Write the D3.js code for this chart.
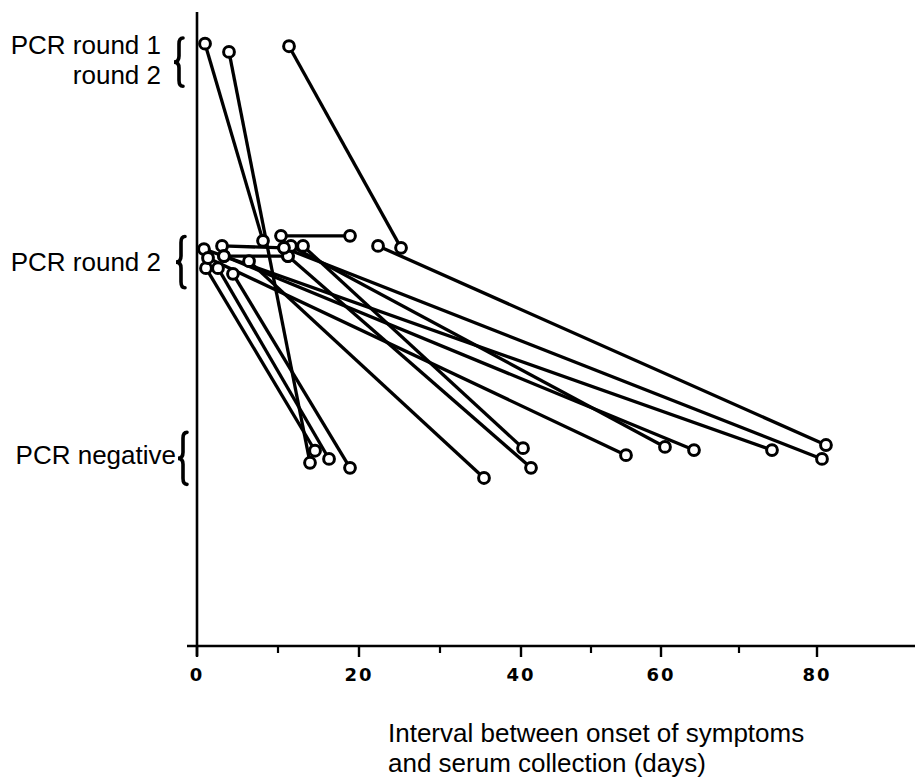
<!DOCTYPE html>
<html>
<head>
<meta charset="utf-8">
<script src="https://cdn.jsdelivr.net/npm/d3@7/dist/d3.min.js"></script>
<style>
  html, body { margin: 0; padding: 0; background: #fff; }
  svg { display: block; }
  text { font-family: "Liberation Sans", Arial, sans-serif; fill: #000; }
</style>
</head>
<body>
<svg id="chart" width="915" height="783"></svg>
<script>
// Interval (days) since onset for paired serum samples; lane = vertical
// position inside the PCR result band the sample belongs to.
const fromDay  = [0.99, 3.95, 11.36, 10.37, 3.09, 3.33, 1.11, 2.59, 4.44, 0.86, 1.36, 3.33, 6.42, 13.09, 11.23, 11.60, 10.74, 22.35];
const fromLane = [9.50, 9.37, 9.46, 6.47, 6.31, 6.15, 5.96, 5.96, 5.87, 6.26, 6.12, 6.15, 6.07, 6.31, 6.15, 6.31, 6.28, 6.31];
const toDay    = [8.15, 13.95, 25.19, 18.89, 10.74, 11.23, 14.57, 16.30, 18.89, 74.23, 55.00, 64.23, 35.43, 40.29, 41.43, 60.51, 80.64, 81.15];
const toLane   = [6.39, 2.89, 6.28, 6.47, 6.28, 6.15, 3.08, 2.95, 2.81, 3.09, 3.01, 3.09, 2.65, 3.12, 2.81, 3.14, 2.95, 3.17];

const xTicksMajor = [0, 20, 40, 60, 80];
const xTicksMinor = [10, 30, 50, 70];

const bandLabels = [
  { lines: ["PCR round 1", "round 2"], baseline: [54, 84] },
  { lines: ["PCR round 2"], baseline: [271] },
  { lines: ["PCR negative"], baseline: [464] }
];
const bandSpan = [[9.59, 8.83], [6.46, 5.65], [3.37, 2.55]];

const titleLines = ["Interval between onset of symptoms", "and serum collection (days)"];

const svg = d3.select("#chart");

// the printed day axis is not evenly spaced, so the scale follows its tick marks
const x = d3.scaleLinear().domain([0, 20, 40, 60, 80]).range([197, 359, 521, 661, 817]);
const y = d3.scaleLinear().domain([0, 10]).range([646, 12]);

// x axis: long baseline with major and minor ticks
const axisG = svg.append("g");
axisG.append("line")
  .attr("x1", 187).attr("x2", 915)
  .attr("y1", y(0)).attr("y2", y(0))
  .attr("stroke", "#000").attr("stroke-width", 2.6);

axisG.selectAll(".major").data(xTicksMajor).join("line")
  .attr("x1", d => x(d)).attr("x2", d => x(d))
  .attr("y1", y(0)).attr("y2", y(0) + 11)
  .attr("stroke", "#000").attr("stroke-width", 2.4);

axisG.selectAll(".minor").data(xTicksMinor).join("line")
  .attr("x1", d => x(d)).attr("x2", d => x(d))
  .attr("y1", y(0)).attr("y2", y(0) + 7)
  .attr("stroke", "#000").attr("stroke-width", 2.2);

axisG.selectAll(".tl").data(xTicksMajor).join("text")
  .attr("x", d => x(d)).attr("y", y(0) + 35)
  .attr("text-anchor", "middle")
  .style("font-family", "'DejaVu Sans', sans-serif")
  .style("font-weight", "bold")
  .style("font-size", "18px")
  .style("letter-spacing", "2px")
  .text(d => d);

// y axis line
svg.append("line")
  .attr("x1", x(0)).attr("x2", x(0))
  .attr("y1", 12).attr("y2", y(0) + 10)
  .attr("stroke", "#000").attr("stroke-width", 2.6);

// band labels with curly braces
function bracePath(bx, y0, y1) {
  const ym = (y0 + y1) / 2;
  return `M${bx + 4},${y0} Q${bx},${y0} ${bx},${y0 + 6} L${bx},${ym - 6} Q${bx},${ym} ${bx - 5},${ym}` +
         ` Q${bx},${ym} ${bx},${ym + 6} L${bx},${y1 - 6} Q${bx},${y1} ${bx + 4},${y1}`;
}
const braceX = [179, 181, 183];
bandSpan.forEach((s, i) => {
  svg.append("path")
    .attr("d", bracePath(braceX[i], y(s[0]), y(s[1])))
    .attr("fill", "none").attr("stroke", "#000").attr("stroke-width", 3.6)
    .attr("stroke-linecap", "round");
});

const labelRight = [161, 161, 176];
bandLabels.forEach((b, i) => {
  b.lines.forEach((t, j) => {
    svg.append("text")
      .attr("x", labelRight[i])
      .attr("y", b.baseline[j])
      .attr("text-anchor", "end")
      .style("font-size", "26px")
      .text(t);
  });
});

// connecting segments
const segs = fromDay.map((d, i) => ({ x0: d, y0: fromLane[i], x1: toDay[i], y1: toLane[i] }));
svg.append("g").selectAll("line").data(segs).join("line")
  .attr("x1", d => x(d.x0)).attr("y1", d => y(d.y0))
  .attr("x2", d => x(d.x1)).attr("y2", d => y(d.y1))
  .attr("stroke", "#000").attr("stroke-width", 3.3);

// sample markers at both ends
const pts = segs.flatMap(s => [[s.x0, s.y0], [s.x1, s.y1]]);
svg.append("g").selectAll("circle").data(pts).join("circle")
  .attr("cx", d => x(d[0])).attr("cy", d => y(d[1]))
  .attr("r", 5.4)
  .attr("fill", "#fff").attr("stroke", "#000").attr("stroke-width", 3);

// axis title
titleLines.forEach((t, i) => {
  svg.append("text")
    .attr("x", 388).attr("y", 742 + i * 30)
    .style("font-size", "26px")
    .text(t);
});
</script>
</body>
</html>
